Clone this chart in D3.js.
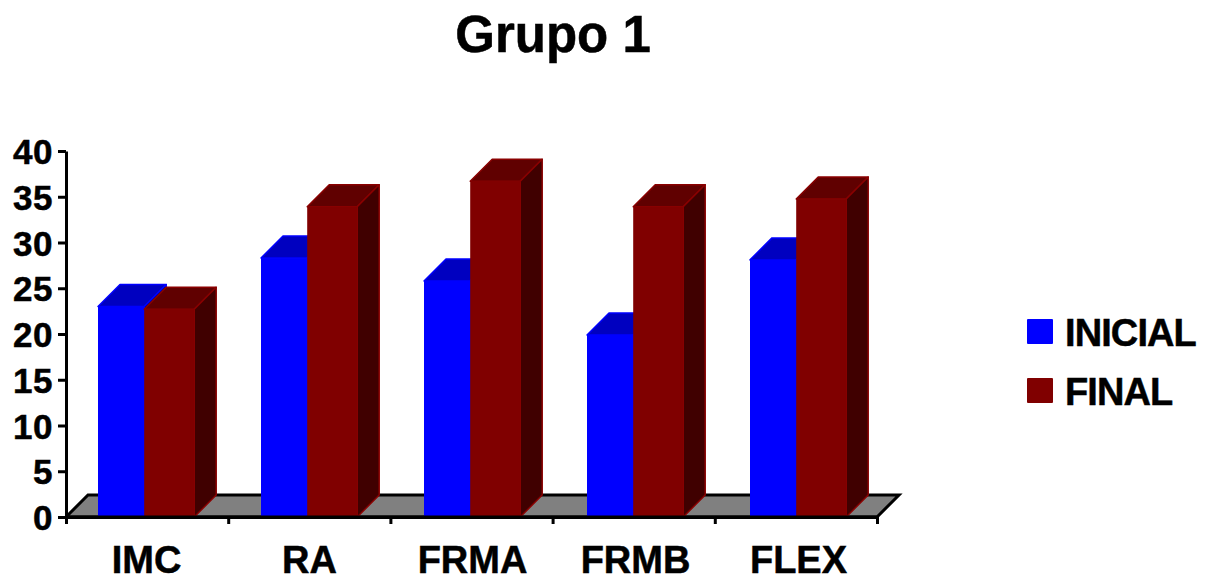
<!DOCTYPE html>
<html>
<head>
<meta charset="utf-8">
<script src="https://cdn.jsdelivr.net/npm/d3@7"></script>
<style>
html,body{margin:0;padding:0;background:#fff}
svg{display:block}
text{font-family:"Liberation Sans",Arial,sans-serif;font-weight:bold;fill:#000;stroke:#000;stroke-width:0.5px}
</style>
</head>
<body>
<script>
const categories = ["IMC","RA","FRMA","FRMB","FLEX"];
const seriesNames = ["INICIAL","FINAL"];
const inicial = [23.0,28.3,25.8,19.9,28.1];
const final = [22.7,33.9,36.7,33.9,34.75];
const yTicks = [0,5,10,15,20,25,30,35,40];

const W=1214,H=578, x0=66,x1=877,yB=517,yT=151,depth=22;
const svg=d3.select("body").append("svg").attr("width",W).attr("height",H);

const x=d3.scaleBand().domain(categories).range([65,880]);
const edge=d3.scaleLinear().domain([0,categories.length]).range([x0,x1]);
const y=d3.scaleLinear().domain([0,40]).range([yB,yT]);
// per-series span inside each category band
const barStart=d3.scaleOrdinal(seriesNames,[33,79.2]);
const barEnd=d3.scaleOrdinal(seriesNames,[79.2,129.2]);
const colors={
 INICIAL:{front:"#0000ff",top:"#0000c0",side:"#000080",edge:"#0000ff"},
 FINAL:{front:"#800000",top:"#600000",side:"#400000",edge:"#8a0000"}
};
const seriesValues={INICIAL:inicial,FINAL:final};

// floor
svg.append("path")
 .attr("d",`M${x0},${yB}L${x0+depth},${yB-depth}L${x1+depth},${yB-depth}L${x1},${yB}Z`)
 .attr("fill","#808080").attr("stroke","#000").attr("stroke-width",3).attr("stroke-linejoin","miter");

// axes
const gy=svg.append("g").attr("transform",`translate(${x0},0)`)
 .call(d3.axisLeft(y).tickValues(yTicks).tickSize(8).tickPadding(5).tickSizeOuter(0));
gy.selectAll("path,line").attr("stroke","#000").attr("stroke-width",3);
gy.selectAll("text").attr("font-size",35).attr("letter-spacing",0.5).attr("dy","0.36em").attr("font-family",null);

const gx=svg.append("g").attr("transform",`translate(0,${yB})`)
 .call(d3.axisBottom(edge).tickValues(d3.range(categories.length+1)).tickFormat("").tickSize(7).tickSizeOuter(0));
gx.selectAll("path,line").attr("stroke","#000").attr("stroke-width",3);

const gl=svg.append("g").attr("transform",`translate(0,${yB})`)
 .call(d3.axisBottom(x).tickSize(0).tickPadding(29));
gl.select("path").remove();
gl.selectAll("text").attr("font-size",38).attr("font-family",null);

// bars
const groups=svg.selectAll("g.cat").data(categories).join("g").attr("class","cat");
seriesNames.forEach(s=>{
 const c=colors[s];
 groups.each(function(cat,i){
  const g=d3.select(this), l=x(cat)+barStart(s), r=x(cat)+barEnd(s), t=y(seriesValues[s][i]), b=y(0);
  g.append("path").attr("d",`M${l},${t}L${l+depth},${t-depth}L${r+depth},${t-depth}L${r},${t}Z`)
   .attr("fill",c.top).attr("stroke",c.edge).attr("stroke-width",1.5).attr("stroke-linejoin","round");
  g.append("path").attr("d",`M${r},${t}L${r+depth},${t-depth}L${r+depth},${b-depth}L${r},${b}Z`)
   .attr("fill",c.side).attr("stroke",c.edge).attr("stroke-width",1.5).attr("stroke-linejoin","round");
  g.append("rect").attr("x",l).attr("y",t).attr("width",r-l).attr("height",b-t).attr("fill",c.front);
 });
});
// redraw baseline over the bars' feet
svg.append("line").attr("x1",x0).attr("x2",x1).attr("y1",yB).attr("y2",yB).attr("stroke","#000").attr("stroke-width",3);

// title
svg.append("text").attr("x",553).attr("y",52).attr("text-anchor","middle").attr("font-size",51).text("Grupo 1");

// legend
const legY=d3.scalePoint().domain(seriesNames).range([319,378]);
const leg=svg.selectAll("g.leg").data(seriesNames).join("g").attr("class","leg")
 .attr("transform",d=>`translate(1027,${legY(d)})`);
leg.append("rect").attr("width",26).attr("height",25).attr("rx",1).attr("fill",d=>colors[d].front);
leg.append("text").attr("x",38).attr("y",27).attr("font-size",38).attr("letter-spacing",-0.9).text(d=>d);
</script>
</body>
</html>
